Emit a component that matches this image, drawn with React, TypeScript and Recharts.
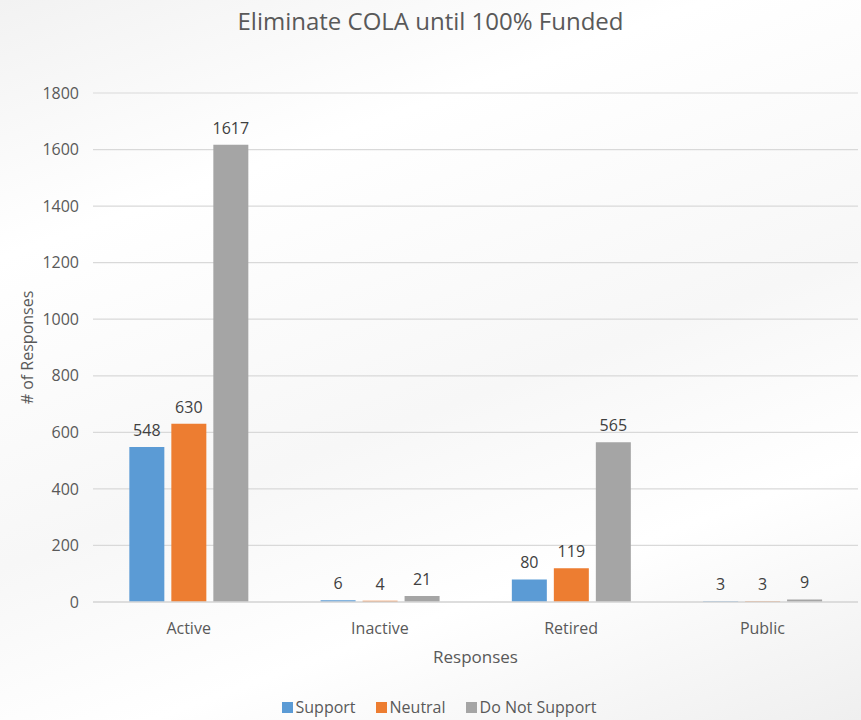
import React from 'react';
import { BarChart, Bar, XAxis, YAxis, CartesianGrid, Legend, LabelList, Label } from 'recharts';

const categories = ['Active', 'Inactive', 'Retired', 'Public'];
const support = [548, 6, 80, 3];
const neutral = [630, 4, 119, 3];
const doNotSupport = [1617, 21, 565, 9];
const yTicks = [0, 200, 400, 600, 800, 1000, 1200, 1400, 1600, 1800];
const seriesNames = ['Support', 'Neutral', 'Do Not Support'];
const seriesColors = ['#5B9BD5', '#ED7D31', '#A5A5A5'];

const data = categories.map((c, i) => ({
  name: c,
  support: support[i],
  neutral: neutral[i],
  dns: doNotSupport[i],
}));

const FONT = '"Open Sans", "Noto Sans", sans-serif';
const TXT = '#595959';

const YLabel = (props: any) => {
  const vb = props.viewBox || {};
  const cx = 27;
  const cy = vb.y + vb.height / 2;
  return (
    <text x={cx} y={cy} transform={`rotate(-90 ${cx} ${cy})`} textAnchor="middle" dominantBaseline="central"
      fill={TXT} fontSize={16} fontFamily={FONT}>
      # of Responses
    </text>
  );
};

const LegendContent = () => (
  <div style={{ display: 'flex', justifyContent: 'center', fontFamily: FONT, fontSize: 16, color: TXT }}>
    {seriesNames.map((n, i) => (
      <div key={n} style={{ display: 'flex', alignItems: 'center', marginRight: i < 2 ? 20 : 0 }}>
        <span style={{ display: 'inline-block', width: 11, height: 11, background: seriesColors[i], marginRight: 3 }} />
        <span>{n}</span>
      </div>
    ))}
  </div>
);

export default function App() {
  return (
    <div style={{ position: 'absolute', left: 0, top: 0, width: 861, height: 720,
      background: 'linear-gradient(160deg, #f2f2f2 0%, #ffffff 25%, #f7f7f7 55%, #ffffff 75%, #efefef 100%)' }}>
      <div style={{ position: 'absolute', left: 0, top: 4, width: 861, textAlign: 'center', fontFamily: FONT,
        fontSize: 24, color: TXT }}>
        Eliminate COLA until 100% Funded
      </div>
      <BarChart width={861} height={720} data={data} margin={{ top: 93, right: 3, left: 20, bottom: 2 }}
        barCategoryGap="19%" barGap={7}>
        <CartesianGrid vertical={false} stroke="#d9d9d9" strokeWidth={1.2} />
        <XAxis dataKey="name" height={94} tickLine={false} tickSize={0} tickMargin={21}
          axisLine={{ stroke: '#d9d9d9', strokeWidth: 1.5 }}
          tick={{ fill: TXT, fontSize: 16, fontFamily: FONT }}>
          <Label value="Responses" position="insideTop" offset={49} fill={TXT} fontSize={17} fontFamily={FONT} />
        </XAxis>
        <YAxis width={73} domain={[0, 1800]} ticks={yTicks} tickLine={false} axisLine={false} tickSize={0}
          tickMargin={14} tick={{ fill: TXT, fontSize: 16, fontFamily: FONT }} label={<YLabel />} />
        <Legend verticalAlign="bottom" height={22} content={<LegendContent />} />
        <Bar dataKey="support" name="Support" fill={seriesColors[0]} isAnimationActive={false}>
          <LabelList dataKey="support" position="top" offset={11} fill="#404040" fontSize={16} fontFamily={FONT} />
        </Bar>
        <Bar dataKey="neutral" name="Neutral" fill={seriesColors[1]} isAnimationActive={false}>
          <LabelList dataKey="neutral" position="top" offset={11} fill="#404040" fontSize={16} fontFamily={FONT} />
        </Bar>
        <Bar dataKey="dns" name="Do Not Support" fill={seriesColors[2]} isAnimationActive={false}>
          <LabelList dataKey="dns" position="top" offset={11} fill="#404040" fontSize={16} fontFamily={FONT} />
        </Bar>
      </BarChart>
    </div>
  );
}
